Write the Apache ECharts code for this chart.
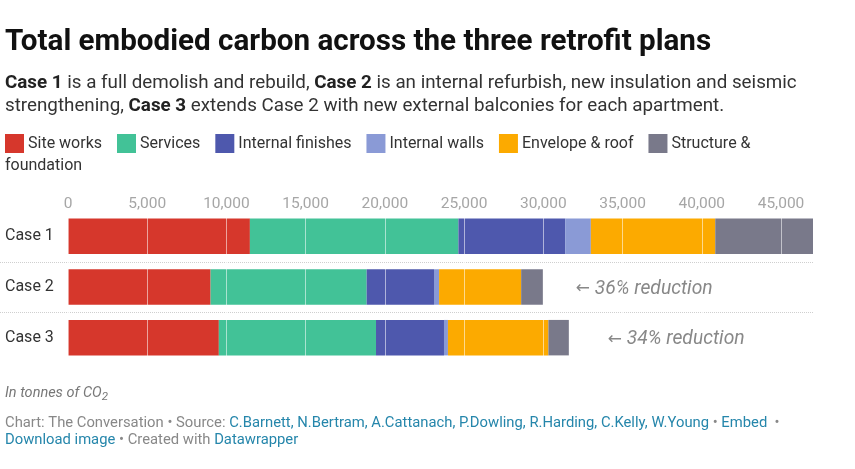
<!DOCTYPE html>
<html>
<head>
    <meta charset="UTF-8">
    <title>Total embodied carbon across the three retrofit plans</title>
    <script src="https://cdn.jsdelivr.net/npm/echarts@6/dist/echarts.min.js"></script>
    <style>
        html, body { margin: 0; padding: 0; background: #fff; }
    </style>
</head>
<body>
    <div id="main" style="width: 855px;height:469px;"></div>
    <script type="text/javascript">
        var cases = ['Case 1', 'Case 2', 'Case 3'];
        var groups = ['Site works', 'Services', 'Internal finishes', 'Internal walls', 'Envelope & roof', 'Structure & foundation'];
        var colors = ['#d6372c', '#42c297', '#4e58ad', '#8a9ad6', '#fcaa00', '#79798a'];

        // tonnes of CO2
        var siteWorks = [11480, 9000, 9520];
        var services = [13160, 9850, 9920];
        var internalFinishes = [6740, 4250, 4290];
        var internalWalls = [1620, 320, 250];
        var envelopeRoof = [7850, 5180, 6340];
        var structure = [6170, 1370, 1290];
        var notes = ['', '36% reduction', '34% reduction'];
        var noteGap = [0, 33, 39];

        var values = [siteWorks, services, internalFinishes, internalWalls, envelopeRoof, structure];
        var total1 = values.reduce((s, v) => s + v[0], 0);

        var myChart = echarts.init(document.getElementById('main'));

        var series = groups.map((name, i) => ({
            name: name,
            type: 'bar',
            stack: 'total',
            barWidth: '70%',
            itemStyle: { color: colors[i] },
            emphasis: { disabled: true },
            data: values[i].map((v, j) => {
                if (i === groups.length - 1 && notes[j]) {
                    return {
                        value: v,
                        label: {
                            show: true,
                            position: 'right',
                            distance: noteGap[j],
                            offset: [0, 2],
                            formatter: '{arr|←} ' + notes[j],
                            color: '#888',
                            fontStyle: 'italic',
                            fontSize: 19.3,
                            fontFamily: 'Roboto',
                            rich: {
                                arr: { fontFamily: 'DejaVu Sans', fontSize: 17, color: '#888', fontStyle: 'normal' }
                            }
                        }
                    };
                }
                return v;
            })
        }));

        var option = {
            animation: false,
            textStyle: { fontFamily: 'Roboto' },
            legend: {
                left: 5,
                top: 134,
                padding: 0,
                itemWidth: 19,
                itemHeight: 19,
                itemGap: 15,
                icon: 'rect',
                selectedMode: false,
                formatter: name => name === 'Structure & foundation' ? 'Structure &' : name,
                textStyle: { fontSize: 16, color: '#333', padding: [0, 0, 0, -1] },
                data: groups
            },
            grid: { left: 68, right: 42, top: 211, bottom: 106 },
            xAxis: {
                type: 'value',
                position: 'top',
                min: 0,
                max: total1,
                interval: 5000,
                z: 5,
                axisLine: { show: false },
                axisTick: { show: false },
                axisLabel: {
                    color: '#a6a6a6',
                    fontSize: 15.5,
                    margin: -1,
                    showMaxLabel: false
                },
                splitLine: { lineStyle: { color: 'rgba(255,255,255,0.55)', width: 1 } }
            },
            yAxis: {
                type: 'category',
                inverse: true,
                data: cases,
                axisLine: { show: false },
                axisTick: { show: false },
                axisLabel: {
                    color: '#333',
                    fontSize: 16,
                    align: 'left',
                    margin: 63
                }
            },
            series: series,
            graphic: [
                {
                    type: 'text', left: 5, top: 28,
                    style: { text: 'Total embodied carbon across the three retrofit plans', fill: '#111', font: 'bold 29.6px Roboto' }
                },
                {
                    type: 'text', left: 5, top: 72,
                    style: {
                        text: '{b|Case 1} is a full demolish and rebuild, {b|Case 2} is an internal refurbish, new insulation and seismic\nstrengthening, {b|Case 3} extends Case 2 with new external balconies for each apartment.',
                        fill: '#333',
                        font: '18.8px Roboto',
                        lineHeight: 23,
                        rich: {
                            b: { fontWeight: 'bold', fontSize: 18.8, fontFamily: 'Roboto', fill: '#222', lineHeight: 23 }
                        }
                    }
                },
                {
                    type: 'text', left: 5, top: 158,
                    style: { text: 'foundation', fill: '#333', font: '16px Roboto' }
                },
                {
                    type: 'text', left: 5, top: 386,
                    style: {
                        text: 'In tonnes of CO{sub|2}',
                        fill: '#777',
                        font: 'italic 14.5px Roboto',
                        rich: {
                            sub: { fontStyle: 'italic', fontSize: 11.5, fontFamily: 'Roboto', fill: '#777', padding: [7, 0, 0, 0] }
                        }
                    }
                },
                {
                    type: 'text', left: 5, top: 415,
                    style: {
                        text: 'Chart: The Conversation • Source: {a|C.Barnett, N.Bertram, A.Cattanach, P.Dowling, R.Harding, C.Kelly, W.Young} • {a|Embed}  •\n{a|Download image} • Created with {a|Datawrapper}',
                        fill: '#888',
                        font: '14.8px Roboto',
                        lineHeight: 17,
                        rich: {
                            a: { fill: '#2586ab', fontSize: 14.8, fontFamily: 'Roboto', lineHeight: 17 }
                        }
                    }
                }
            ]
        };

        myChart.setOption(option);

        // dotted separators between the rows
        var centers = cases.map((c, i) => myChart.convertToPixel({ yAxisIndex: 0 }, c));
        var seps = [];
        for (var i = 0; i < centers.length - 1; i++) {
            var y = Math.round((centers[i] + centers[i + 1]) / 2) + 0.5;
            seps.push({
                type: 'line',
                shape: { x1: 0, y1: y, x2: 855 - 42, y2: y },
                style: { stroke: '#cfcfcf', lineWidth: 1, lineDash: [1, 1] }
            });
        }
        myChart.setOption({ graphic: option.graphic.concat(seps) });
    </script>
</body>
</html>
